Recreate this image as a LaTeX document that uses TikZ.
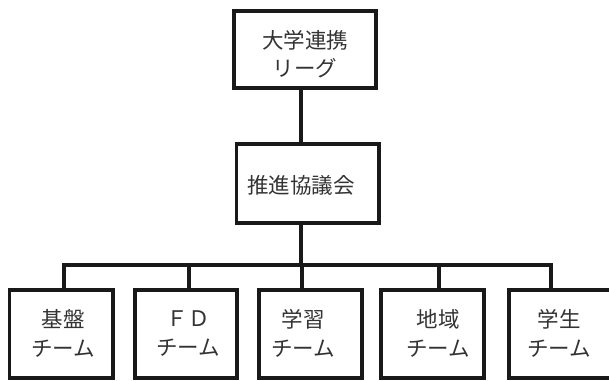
\documentclass[tikz,border=0pt]{standalone}
\usepackage{fontspec}
\newfontfamily\jp{Noto Sans CJK JP}
\begin{document}
\begin{tikzpicture}[x=1pt,y=-1pt,
  orgbox/.style={draw=black!90, line width=3.8pt, inner sep=0pt},
  txt/.style={font=\jp\fontsize{21.5}{28.5}\selectfont, text=black!80, align=center, inner sep=0pt},
  conn/.style={draw=black!90, line width=3.8pt, line join=miter}]
\useasboundingbox (0,0) rectangle (609,380);
% boxes
\node[orgbox, minimum width=142pt, minimum height=77pt] (top) at (305,49.5) {};
\node[orgbox, minimum width=142.5pt, minimum height=79pt] (mid) at (307.75,183.5) {};
\node[orgbox, minimum width=103.5pt, minimum height=88pt] (b1) at (61.25,334) {};
\node[orgbox, minimum width=102pt, minimum height=88pt] (b2) at (186,334) {};
\node[orgbox, minimum width=103pt, minimum height=88pt] (b3) at (310.5,334) {};
\node[orgbox, minimum width=103pt, minimum height=88pt] (b4) at (432.5,334) {};
\node[orgbox, minimum width=103pt, minimum height=88pt] (b5) at (560.5,334) {};
% texts
\node[txt] (toptxt) at (305,54) {大学連携\\リーグ};
\node[txt] (midtxt) at (301,185) {推進協議会};
\node[txt] (t1) at (63,333.5) {基盤\\チーム};
\node[txt] (t2) at (188,333.5) {ＦＤ\\チーム};
\node[txt] (t3) at (303,333.5) {学習\\チーム};
\node[txt] (t4) at (438,333.5) {地域\\チーム};
\node[txt] (t5) at (559,333.5) {学生\\チーム};
% connector points
\coordinate (spine) at (301,265);
\coordinate (d1) at (64,265);
\coordinate (d2) at (189,265);
\coordinate (d3) at (302,265);
\coordinate (d4) at (439,265);
\coordinate (d5) at (551,265);
% connectors
\draw[conn] (spine |- top.south) -- (spine |- mid.north);
\draw[conn] (spine |- mid.south) -- (spine);
\draw[conn] (d1 |- b1.north) -- (d1) -- (d5) -- (d5 |- b5.north);
\draw[conn] (d2) -- (d2 |- b2.north);
\draw[conn] (d3) -- (d3 |- b3.north);
\draw[conn] (d4) -- (d4 |- b4.north);
\end{tikzpicture}
\end{document}
